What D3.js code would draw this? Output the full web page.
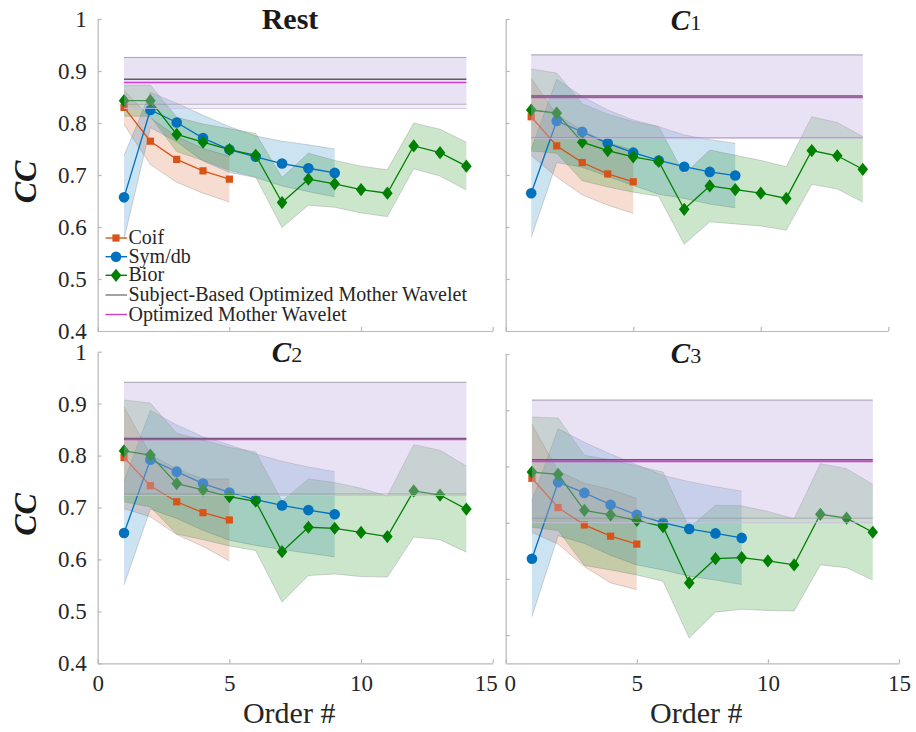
<!DOCTYPE html>
<html>
<head>
<meta charset="utf-8">
<script src="https://cdn.jsdelivr.net/npm/d3@7"></script>
<style>
  body { margin: 0; background: #fff; }
  svg { display: block; font-family: "Liberation Serif", "Times New Roman", serif; }
</style>
</head>
<body>
<svg id="chart" width="916" height="732"></svg>
<script>
// panel order: Rest, C1, C2, C3
const panelNames = ["Rest", "1", "2", "3"];
const orders = [1, 2, 3, 4, 5, 6, 7, 8, 9, 10, 11, 12, 13, 14];
const xTicks = [0, 5, 10, 15];
const yTicks = [0.4, 0.5, 0.6, 0.7, 0.8, 0.9, 1];
const yDomains = [[0.4, 1], [0.4, 1], [0.4, 1], [0.45, 1]];

// Coif (orders 1-5)
const coifMean = [
  [0.830, 0.765, 0.730, 0.708, 0.692],
  [0.812, 0.756, 0.724, 0.702, 0.687],
  [0.796, 0.742, 0.711, 0.690, 0.676],
  [0.779, 0.727, 0.696, 0.676, 0.662]
];
const coifSd = [
  [0.033, 0.045, 0.044, 0.043, 0.044],
  [0.074, 0.060, 0.062, 0.060, 0.061],
  [0.098, 0.060, 0.063, 0.065, 0.079],
  [0.096, 0.065, 0.074, 0.083, 0.081]
];

// Sym/db (orders 1-9)
const symMean = [
  [0.657, 0.825, 0.801, 0.771, 0.749, 0.735, 0.722, 0.713, 0.704],
  [0.665, 0.804, 0.783, 0.761, 0.743, 0.728, 0.716, 0.706, 0.699],
  [0.651, 0.792, 0.769, 0.746, 0.729, 0.715, 0.704, 0.695, 0.687],
  [0.636, 0.772, 0.753, 0.732, 0.714, 0.700, 0.689, 0.681, 0.673]
];
const symSd = [
  [0.080, 0.034, 0.037, 0.044, 0.044, 0.040, 0.043, 0.045, 0.046],
  [0.085, 0.080, 0.068, 0.064, 0.063, 0.065, 0.061, 0.062, 0.062],
  [0.100, 0.095, 0.090, 0.090, 0.092, 0.088, 0.085, 0.083, 0.082],
  [0.103, 0.095, 0.090, 0.090, 0.089, 0.084, 0.084, 0.083, 0.083]
];

// Bior (orders 1-14)
const biorMean = [
  [0.843, 0.843, 0.778, 0.763, 0.749, 0.738, 0.647, 0.692, 0.683, 0.672, 0.665, 0.756, 0.743, 0.717],
  [0.825, 0.819, 0.763, 0.747, 0.735, 0.726, 0.634, 0.679, 0.672, 0.665, 0.655, 0.747, 0.737, 0.711],
  [0.809, 0.801, 0.746, 0.734, 0.721, 0.712, 0.615, 0.662, 0.660, 0.652, 0.644, 0.732, 0.724, 0.697],
  [0.790, 0.786, 0.722, 0.714, 0.704, 0.693, 0.593, 0.636, 0.638, 0.632, 0.625, 0.715, 0.708, 0.683]
];
const biorSd = [
  [0.030, 0.030, 0.033, 0.035, 0.040, 0.042, 0.048, 0.050, 0.045, 0.045, 0.045, 0.044, 0.045, 0.046],
  [0.079, 0.077, 0.074, 0.070, 0.068, 0.067, 0.067, 0.069, 0.066, 0.063, 0.061, 0.065, 0.064, 0.063],
  [0.098, 0.100, 0.097, 0.096, 0.095, 0.095, 0.097, 0.093, 0.088, 0.085, 0.078, 0.089, 0.086, 0.083],
  [0.098, 0.100, 0.098, 0.098, 0.097, 0.097, 0.098, 0.095, 0.092, 0.088, 0.082, 0.090, 0.088, 0.085]
];

// Subject-based optimized mother wavelet: mean, lower, upper
const subjMean = [0.884, 0.852, 0.833, 0.812];
const subjLo = [0.836, 0.772, 0.726, 0.708];
const subjHi = [0.926, 0.931, 0.941, 0.918];
// Optimized mother wavelet: mean, lower, upper
const optMean = [0.878, 0.849, 0.831, 0.809];
const optLo = [0.828, 0.770, 0.723, 0.700];
const optHi = [0.926, 0.931, 0.941, 0.918];

const legendLabels = ["Coif", "Sym/db", "Bior", "Subject-Based Optimized Mother Wavelet", "Optimized Mother Wavelet"];

const colCoif = "#D95319", colSym = "#0072BD", colBior = "#008000";
const colSubj = "#5f5f5f", colOpt = "#d23cd2";

// panel geometry
const layout = [
  { left: 97.7, right: 492.7, top: 19, bottom: 331, titleX: 290, titleY: 29, xLabels: false, yLabels: true },
  { left: 505.7, right: 888.3, top: 19, bottom: 331, titleX: 686, titleY: 30, xLabels: false, yLabels: false },
  { left: 97.7, right: 492.7, top: 351.7, bottom: 663.3, titleX: 287, titleY: 362, xLabels: true, yLabels: true },
  { left: 505.7, right: 899, top: 354, bottom: 663.3, titleX: 686, titleY: 363, xLabels: true, yLabels: false }
];

const svg = d3.select("#chart");

function diamond(s) {
  const w = 5.3 * s, h = 6.6 * s;
  return `M0,${-h}L${w},0L0,${h}L${-w},0Z`;
}

function drawMarkers(g, pts, kind, color) {
  const sel = g.selectAll(null).data(pts).enter();
  if (kind === "square") {
    sel.append("rect")
      .attr("x", (d) => d[0] - 3.6).attr("y", (d) => d[1] - 3.6)
      .attr("width", 7.2).attr("height", 7.2)
      .attr("fill", color);
  } else if (kind === "circle") {
    sel.append("circle")
      .attr("cx", (d) => d[0]).attr("cy", (d) => d[1]).attr("r", 5.3)
      .attr("fill", color);
  } else {
    sel.append("path")
      .attr("transform", (d) => `translate(${d[0]},${d[1]})`)
      .attr("d", diamond(1))
      .attr("fill", color);
  }
}

function hLine(g, x0, x1, yy, color, width, opacity) {
  g.append("line")
    .attr("x1", x0).attr("x2", x1)
    .attr("y1", yy).attr("y2", yy)
    .attr("stroke", color).attr("stroke-width", width)
    .attr("stroke-opacity", opacity);
}

layout.forEach((L, p) => {
  const g = svg.append("g");
  const x = d3.scaleLinear().domain([0, 15]).range([L.left, L.right]);
  const y = d3.scaleLinear().domain(yDomains[p]).range([L.bottom, L.top]);

  const series = [
    { mean: coifMean[p], sd: coifSd[p], color: colCoif, kind: "square" },
    { mean: symMean[p], sd: symSd[p], color: colSym, kind: "circle" },
    { mean: biorMean[p], sd: biorSd[p], color: colBior, kind: "diamond" }
  ];

  // shaded std bands (fill + upper/lower edges only)
  series.forEach((s) => {
    const pts = s.mean.map((m, i) => ({ o: orders[i], m: m, sd: s.sd[i] }));
    const area = d3.area()
      .x((d) => x(d.o))
      .y0((d) => y(d.m - d.sd))
      .y1((d) => y(d.m + d.sd));
    g.append("path")
      .datum(pts)
      .attr("d", area)
      .attr("fill", s.color)
      .attr("fill-opacity", 0.2);
    [-1, 1].forEach((sgn) => {
      g.append("path")
        .datum(pts)
        .attr("d", d3.line().x((d) => x(d.o)).y((d) => y(d.m + sgn * d.sd)))
        .attr("fill", "none")
        .attr("stroke", "#7a7a7a")
        .attr("stroke-opacity", 0.35)
        .attr("stroke-width", 0.9);
    });
  });

  // lines + markers
  series.forEach((s) => {
    const pts = s.mean.map((m, i) => [x(orders[i]), y(m)]);
    g.append("path")
      .attr("d", d3.line()(pts))
      .attr("fill", "none")
      .attr("stroke", s.color)
      .attr("stroke-width", 1.3);
    drawMarkers(g, pts, s.kind, s.color);
  });

  // optimized mother wavelet bands (drawn over the series)
  const x0 = x(orders[0]), x1 = x(orders[orders.length - 1]);
  g.append("rect")
    .attr("x", x0).attr("width", x1 - x0)
    .attr("y", y(subjHi[p])).attr("height", y(subjLo[p]) - y(subjHi[p]))
    .attr("fill", "#c2aee0").attr("fill-opacity", 0.2);
  g.append("rect")
    .attr("x", x0).attr("width", x1 - x0)
    .attr("y", y(optHi[p])).attr("height", y(optLo[p]) - y(optHi[p]))
    .attr("fill", "#c2aee0").attr("fill-opacity", 0.2);
  hLine(g, x0, x1, y(optHi[p]), "#cdbde6", 1, 0.8);
  hLine(g, x0, x1, y(optLo[p]), "#cdbde6", 1, 0.8);
  hLine(g, x0, x1, y(subjHi[p]), "#8a8a8a", 1, 0.55);
  hLine(g, x0, x1, y(subjLo[p]), "#8a8a8a", 1, 0.55);

  hLine(g, x0, x1, y(subjMean[p]), colSubj, 1.6, 1);
  hLine(g, x0, x1, y(optMean[p]), colOpt, 1.6, 1);

  // axes
  const yT = yTicks.filter((t) => t >= yDomains[p][0]);
  const yAxis = d3.axisLeft(y)
    .tickValues(yT)
    .tickSize(-4)
    .tickSizeOuter(0)
    .tickPadding(11)
    .tickFormat(L.yLabels ? (d) => (d === 1 ? "1" : d3.format(".1f")(d)) : () => "");
  const xAxis = d3.axisBottom(x)
    .tickValues(xTicks)
    .tickSize(-4)
    .tickSizeOuter(0)
    .tickPadding(11)
    .tickFormat(L.xLabels ? d3.format("d") : () => "");

  const ya = g.append("g").attr("transform", `translate(${L.left},0)`).call(yAxis);
  const xa = g.append("g").attr("transform", `translate(0,${L.bottom})`).call(xAxis);
  [ya, xa].forEach((a) => {
    a.select(".domain").attr("stroke", "#b8b8b8").attr("stroke-width", 1.2);
    a.selectAll(".tick line").attr("stroke", "#b8b8b8").attr("stroke-width", 1.2);
    a.selectAll(".tick text")
      .attr("fill", "#262626")
      .style("font-family", "Liberation Serif, serif")
      .style("font-size", "23px");
  });
  // edge labels shifted apart where the two bottom panels meet (as in the original)
  if (L.xLabels) {
    xa.selectAll(".tick text")
      .attr("dx", (d) => (p === 2 && d === 15 ? -7 : p === 3 && d === 0 ? 4 : 0));
  }

  // title
  const title = g.append("text")
    .attr("x", L.titleX).attr("y", L.titleY)
    .attr("text-anchor", "middle")
    .attr("fill", "#1a1a1a");
  if (p === 0) {
    title.style("font-size", "30px").style("font-weight", "bold").text(panelNames[p]);
  } else {
    title.append("tspan")
      .style("font-size", "29px").style("font-weight", "bold").style("font-style", "italic")
      .text("C");
    title.append("tspan")
      .style("font-size", "22px").style("font-weight", "normal")
      .text(panelNames[p]);
  }

  // y label
  if (L.yLabels) {
    g.append("text")
      .attr("transform", `translate(25,${(L.top + L.bottom) / 2 + 7}) rotate(-90)`)
      .attr("text-anchor", "middle")
      .attr("dy", "0.35em")
      .style("font-size", "32px").style("font-weight", "bold").style("font-style", "italic")
      .attr("fill", "#1a1a1a")
      .text("CC");
  }

  // x label
  if (L.xLabels) {
    g.append("text")
      .attr("x", (L.left + L.right) / 2 - 6).attr("y", 723)
      .attr("text-anchor", "middle")
      .style("font-size", "30px")
      .attr("fill", "#262626")
      .text("Order #");
  }
});

// legend (inside Rest panel)
const legend = svg.append("g");
const rowY = [238, 256.7, 275.3, 295, 314.5];
const legendKinds = [
  { color: colCoif, kind: "square" },
  { color: colSym, kind: "circle" },
  { color: colBior, kind: "diamond" },
  { color: "#7a7a7a", kind: null },
  { color: colOpt, kind: null }
];
legendLabels.forEach((lab, i) => {
  const yy = rowY[i];
  const k = legendKinds[i];
  legend.append("line")
    .attr("x1", 105.5).attr("x2", 127)
    .attr("y1", yy).attr("y2", yy)
    .attr("stroke", k.color).attr("stroke-width", 1.4);
  if (k.kind) drawMarkers(legend, [[116, yy]], k.kind, k.color);
  legend.append("text")
    .attr("x", 128.5).attr("y", yy)
    .attr("dy", "0.3em")
    .style("font-size", "20px")
    .attr("fill", "#262626")
    .text(lab);
});
</script>
</body>
</html>
